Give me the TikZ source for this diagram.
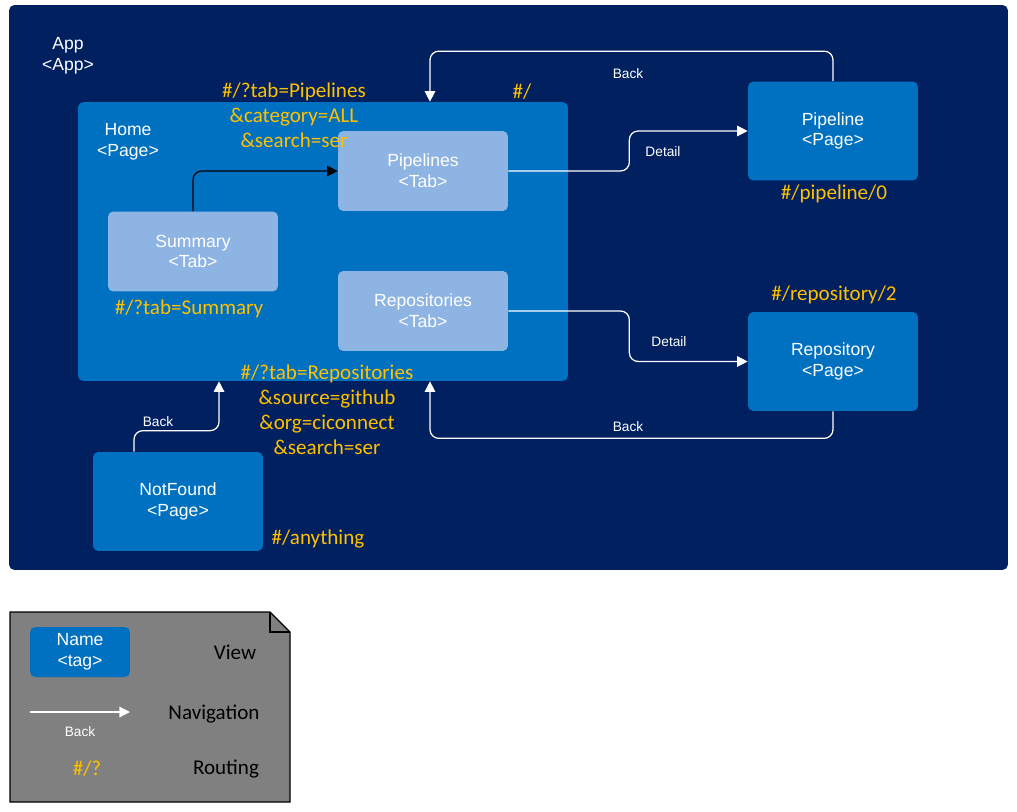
\documentclass[tikz,border=0pt]{standalone}
\usepackage{fontspec}
\setmainfont{Liberation Sans}
\newfontfamily\routefont{Carlito}
\usetikzlibrary{arrows.meta,shapes,positioning}
\definecolor{appnavy}{RGB}{0,32,96}
\definecolor{pageblue}{RGB}{0,112,192}
\definecolor{tabblue}{RGB}{142,180,227}
\definecolor{routeorange}{RGB}{255,192,0}
\definecolor{legendgray}{RGB}{128,128,128}
\tikzstyle{page} = [rectangle, rounded corners=3pt, minimum width=3.4cm, minimum height=1.98cm, text centered, align=center, text=white, fill=pageblue, font=\fontsize{10}{11.8}\selectfont]
\tikzstyle{tab} = [page, fill=tabblue, minimum height=1.6cm]
\tikzstyle{caption} = [align=center, text=white, font=\fontsize{10}{11.8}\selectfont]
\tikzstyle{route} = [align=center, text=routeorange, font=\routefont\fontsize{12}{14.2}\selectfont]
\tikzstyle{nav} = [->, >={Triangle[width=6pt,length=6pt]}, line width=0.7pt, color=white, rounded corners=5pt]
\tikzstyle{navlabel} = [text=white, font=\fontsize{7.8}{9}\selectfont]
\tikzstyle{legendtext} = [text=black, font=\routefont\fontsize{12}{13}\selectfont]

\begin{document}
\begin{tikzpicture}[x=0.02cm, y=-0.02cm]
\useasboundingbox (0,0) rectangle (1017,811);

% App container
\node (app) [rectangle, rounded corners=3pt, fill=appnavy, minimum width=19.98cm, minimum height=11.3cm] at (508.5,287.5) {};
\node (applabel) [caption] at (68,56) {App\\<App>};

% Home page with its tabs
\node (home) [page, minimum width=9.8cm, minimum height=5.58cm] at (323,241.5) {};
\node (homelabel) [caption] at (128,142) {Home\\<Page>};
\node (pipelines) [tab] at (423,171) {Pipelines\\<Tab>};
\node (summary) [tab] at (193,251.5) {Summary\\<Tab>};
\node (repositories) [tab] at (423,311) {Repositories\\<Tab>};

% Other pages
\node (pipeline) [page] at (833,131) {Pipeline\\<Page>};
\node (repository) [page] at (833,361.5) {Repository\\<Page>};
\node (notfound) [page] at (178,501.5) {NotFound\\<Page>};

% Routes
\node (rpipelines) [route] at (294,115) {\#/?tab=Pipelines\\\&category=ALL\\\&search=ser};
\node (rhome) [route] at (522,92) {\#/};
\node (rsummary) [route] at (189,309) {\#/?tab=Summary};
\node (rrepositories) [route] at (327,409.5) {\#/?tab=Repositories\\\&source=github\\\&org=ciconnect\\\&search=ser};
\node (rpipeline) [route] at (834,194) {\#/pipeline/0};
\node (rrepository) [route] at (834,295) {\#/repository/2};
\node (rnotfound) [route] at (318,539) {\#/anything};

% Navigation
\draw[nav, color=black] (summary.north) |- (pipelines.west);
\draw[nav] (pipelines.east) -- ++(121,0) |- (pipeline.west);
\draw[nav] (repositories.east) -- ++(121,0) |- (repository.west);
\draw[nav] (pipeline.north) -- ++(0,-30) -| ([xshift=2.14cm]home.north);
\draw[nav] (repository.south) -- ++(0,27) -| ([xshift=2.14cm]home.south);
\draw[nav] ([xshift=-0.88cm]notfound.north) -- ++(0,-21) -| ([xshift=-2.08cm]home.south);
\node (ldetail1) [navlabel] at (663,152) {Detail};
\node (ldetail2) [navlabel] at (669,342) {Detail};
\node (lback1) [navlabel] at (628,74) {Back};
\node (lback2) [navlabel] at (628,427) {Back};
\node (lback3) [navlabel] at (158,422) {Back};

% Legend
\draw[fill=legendgray, line width=0.7pt] (10,612) -- (270,612) -- (290,632) -- (290,802) -- (10,802) -- cycle;
\draw[line width=0.7pt] (270,612) -- (270,632) -- (290,632);
\node (legview) [page, minimum width=2cm, minimum height=1cm] at (80,652) {Name\\<tag>};
\coordinate (legfrom) at (30,712);
\coordinate (legto) at (130,712);
\draw[nav] (legfrom) -- (legto);
\node (legback) [navlabel] at (80,732) {Back};
\node (legroute) [route] at (87,769) {\#/?};
\node (tview) [legendtext] at (235,652) {View};
\node (tnav) [legendtext] at (214,714) {Navigation};
\node (trouting) [legendtext] at (226,769) {Routing};
\end{tikzpicture}
\end{document}
